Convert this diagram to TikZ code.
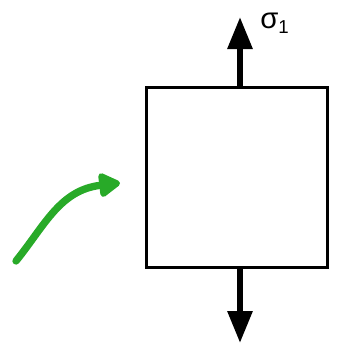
\documentclass[tikz,border=0pt]{standalone}
\usepackage{fontspec}
\setmainfont{Liberation Sans}
\usetikzlibrary{arrows.meta}
\begin{document}
\begin{tikzpicture}[x=0.75pt,y=-0.75pt,
  stress/.style={line width=4.5pt,-{Triangle[length=24pt,width=18pt]}},
  hand/.style={draw={rgb,255:red,40;green,170;blue,40},line width=5.5pt,line cap=round,
    -{Triangle[length=18pt,width=20pt,round]}}]
\useasboundingbox (0,0) rectangle (338,350);
\node[draw,line width=2.4pt,minimum width=180.5*0.75pt,minimum height=180.5*0.75pt,inner sep=0pt] (box) at (237,177.5) {};
\coordinate (ttip) at (240,17);
\coordinate (btip) at (240,343);
\coordinate (tbase) at (240,87);
\coordinate (bbase) at (240,268);
\draw[stress] (tbase) -- (ttip);
\draw[stress] (bbase) -- (btip);
\node[font=\fontsize{22}{22}\selectfont,anchor=base west,inner sep=0pt] (sig) at (260,28) {σ\raisebox{-4pt}{\fontsize{14}{14}\selectfont 1}};
\coordinate (gs) at (16,261);
\coordinate (ge) at (120,183);
\draw[hand] (gs) .. controls (45,225) and (60,190) .. (ge);
\end{tikzpicture}
\end{document}
